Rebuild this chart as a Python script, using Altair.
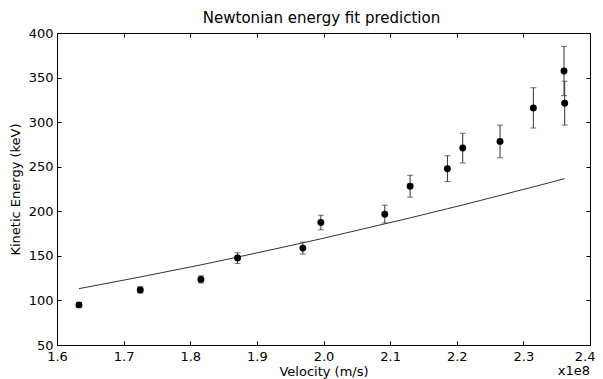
import altair as alt
import pandas as pd

# Measured data (velocity in units of 1e8 m/s, energy in keV)
velocity = [1.633, 1.725, 1.816, 1.871, 1.969, 1.996, 2.092, 2.130, 2.186, 2.209, 2.265, 2.315, 2.361, 2.362]
energy = [95.0, 111.8, 123.6, 147.5, 158.7, 187.4, 196.8, 228.1, 247.8, 270.9, 278.4, 316.0, 357.4, 321.3]
energy_err = [2.5, 3.5, 4.0, 6.0, 6.7, 8.2, 10.0, 12.3, 14.5, 16.6, 18.3, 22.6, 27.6, 24.6]

# Newtonian fit curve
fit_velocity = [1.633, 1.725, 1.816, 1.871, 1.969, 1.996, 2.092, 2.130, 2.186, 2.209, 2.265, 2.315, 2.362]
fit_energy = [113.2, 126.3, 139.9, 148.6, 164.6, 169.1, 185.9, 192.6, 202.9, 207.1, 217.8, 227.4, 236.6]

x_ticks = [1.6, 1.7, 1.8, 1.9, 2.0, 2.1, 2.2, 2.3, 2.4]
y_ticks = [50, 100, 150, 200, 250, 300, 350, 400]

title_text = "Newtonian energy fit prediction"
multiplier_text = "x1e8"

df = pd.DataFrame({
    "v": velocity,
    "e": energy,
    "lo": [e - d for e, d in zip(energy, energy_err)],
    "hi": [e + d for e, d in zip(energy, energy_err)],
})
fit = pd.DataFrame({"v": fit_velocity, "e": fit_energy})

W, H = 533, 312
FONT = "DejaVu Sans"

xs = alt.Scale(domain=[1.6, 2.4], nice=False, zero=False)
ys = alt.Scale(domain=[50, 400], nice=False, zero=False)

common_axis = dict(offset=-4, tickSize=4, domain=False, grid=False, tickColor="black",
                   tickWidth=1, labelFlush=False, labelOverlap=False)

x_bottom = alt.Axis(
    values=x_ticks, format=".1f", orient="bottom", labelPadding=5,
    labelAlign={"condition": {"test": "datum.value > 2.35", "value": "right"}, "value": "center"},
    labelOffset={"condition": {"test": "datum.value > 2.35", "value": 5}, "value": 0},
    title="Velocity (m/s)", titlePadding=2, **common_axis)
y_left = alt.Axis(values=y_ticks, format="d", orient="left", labelPadding=4,
                  title="Kinetic Energy (keV)", titlePadding=6, **common_axis)
x_top = alt.Axis(values=x_ticks, orient="top", labels=False, title=None, **common_axis)
y_right = alt.Axis(values=y_ticks, orient="right", labels=False, title=None, **common_axis)

line = alt.Chart(fit).mark_line(color="#333333", strokeWidth=1).encode(
    x=alt.X("v:Q", scale=xs, axis=x_top),
    y=alt.Y("e:Q", scale=ys, axis=y_right),
)

bars = alt.Chart(df).mark_rule(color="#333333", strokeWidth=1).encode(
    x=alt.X("v:Q", scale=xs, axis=None),
    y=alt.Y("lo:Q", scale=ys, axis=None),
    y2="hi:Q",
)
cap_lo = alt.Chart(df).mark_tick(orient="horizontal", size=6, thickness=1, color="#333333").encode(
    x=alt.X("v:Q", scale=xs, axis=None),
    y=alt.Y("lo:Q", scale=ys, axis=None),
)
cap_hi = alt.Chart(df).mark_tick(orient="horizontal", size=6, thickness=1, color="#333333").encode(
    x=alt.X("v:Q", scale=xs, axis=None),
    y=alt.Y("hi:Q", scale=ys, axis=None),
)
points = alt.Chart(df).mark_circle(size=48, color="black", opacity=1).encode(
    x=alt.X("v:Q", scale=xs, axis=x_bottom),
    y=alt.Y("e:Q", scale=ys, axis=y_left),
)

multiplier = alt.Chart(pd.DataFrame({"t": [multiplier_text]})).mark_text(
    align="right", baseline="alphabetic", font=FONT, fontSize=13, color="black"
).encode(x=alt.value(W), y=alt.value(342), text="t:N")

title = alt.Chart(pd.DataFrame({"t": [title_text]})).mark_text(
    align="center", baseline="alphabetic", font=FONT, fontSize=15, color="black"
).encode(x=alt.value(W / 2 - 2), y=alt.value(-10), text="t:N")

chart = alt.layer(line, bars, cap_lo, cap_hi, points, multiplier, title).properties(
    width=W,
    height=H,
    background="white",
    autosize=alt.AutoSizeParams(type="none"),
    padding={"left": 49, "top": 25, "right": 5, "bottom": 36},
).configure_view(
    stroke="black", strokeWidth=1
).configure_axis(
    labelFont=FONT, labelFontSize=13, labelColor="black",
    titleFont=FONT, titleFontSize=13, titleFontWeight="normal", titleColor="black",
)

chart.save("out.html", embed_options={"renderer": "svg", "actions": False})
